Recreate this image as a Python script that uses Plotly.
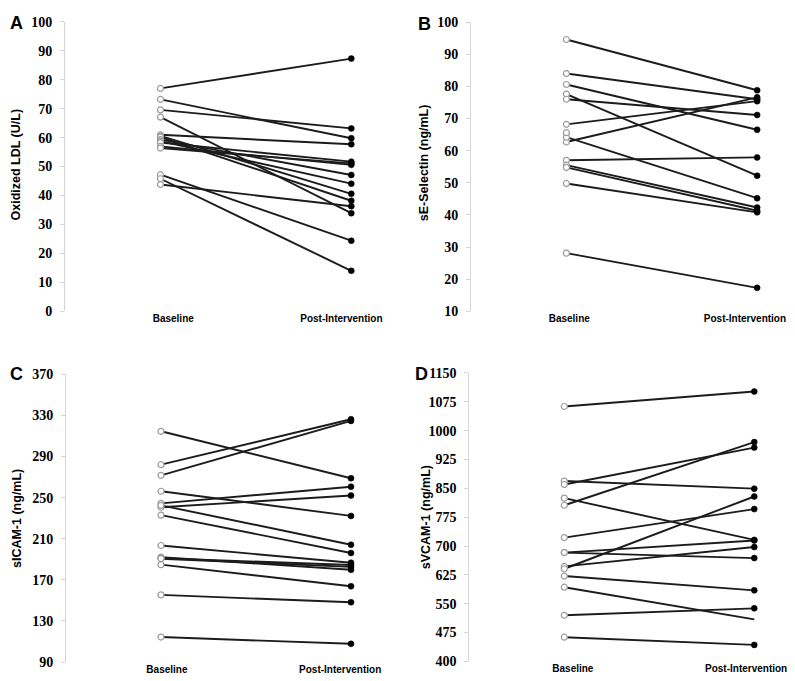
import plotly.graph_objects as go

# ---------------- data ----------------
timepoints = ["Baseline", "Post-Intervention"]

a_baseline = [77.0, 73.2, 69.6, 67.1, 61.0, 60.6, 60.2, 59.3, 58.8, 58.3, 57.0, 56.4, 47.2, 45.8, 43.8]
a_post     = [87.3, 59.8, 63.2, 33.9, 57.7, 40.6, 38.2, 47.1, 44.1, 51.7, 50.6, 51.1, 24.4, 14.0, 36.3]

b_baseline = [94.6, 84.0, 80.6, 77.6, 76.0, 68.2, 62.7, 64.2, 57.0, 55.5, 54.8, 49.8, 28.1, 65.6]
b_post     = [78.8, 76.0, 66.5, 52.2, 71.1, 75.4, 76.6, 45.2, 57.9, 42.3, 41.3, 40.8, 17.3, None]

c_baseline = [314.5, 282.0, 271.7, 256.2, 244.4, 240.6, 242.5, 233.0, 203.4, 192.1, 191.0, 184.8, 155.4, 114.4, 190.6]
c_post     = [268.8, 326.2, 324.6, 232.2, 260.6, 252.0, 204.2, 196.1, 186.7, 179.8, 184.5, 163.8, 148.2, 107.8, 182.6]

d_baseline = [1062.8, 869.0, 860.0, 824.5, 806.0, 722.0, 683.0, 683.0, 647.0, 641.0, 622.0, 593.0, 520.0, 463.0]
d_post     = [1101.7, 849.2, 956.0, 716.0, 970.3, 796.0, 714.5, 668.6, 697.4, 828.8, 584.8, 509.5, 538.0, 443.0]
d_post_without_marker = [509.5]   # this post value is drawn as a line end only

panel_letters = ["A", "B", "C", "D"]
y_titles = ["Oxidized LDL (U/L)", "sE-Selectin (ng/mL)", "sICAM-1 (ng/mL)", "sVCAM-1 (ng/mL)"]
y_ranges = [(0, 100), (10, 100), (90, 370), (400, 1150)]
y_dticks = [10, 10, 40, 75]

# ---------------- layout helpers ----------------
W, H = 795, 681
def fx(px):
    return px / W
def fy(py):
    return 1 - py / H

panels = [
    dict(base=a_baseline, post=a_post, hide=[], xd=(58, 368.4), yd=(303, 7), ticks=(0.067, 0.948),
         title_xy=(8.5, 152.5), letter_xy=(8.5, 8)),
    dict(base=b_baseline, post=b_post, hide=[], xd=(470.7, 781), yd=(303, 7.3), ticks=(0.015, 0.936),
         title_xy=(422.5, 151), letter_xy=(423, 9)),
    dict(base=c_baseline, post=c_post, hide=[], xd=(59, 368), yd=(661.7, 367.3), ticks=(0.031, 0.943),
         title_xy=(8.5, 515), letter_xy=(8.5, 367)),
    dict(base=d_baseline, post=d_post, hide=d_post_without_marker, xd=(469, 778), yd=(661, 366),
         ticks=(0.045, 0.957), title_xy=(424.5, 514), letter_xy=(420, 367)),
]

serif = "Liberation Serif, Times New Roman, serif"
sans = "Liberation Sans, Arial, sans-serif"

fig = go.Figure()
layout = dict(width=W, height=H, margin=dict(l=0, r=0, t=0, b=0),
              paper_bgcolor="white", plot_bgcolor="white", showlegend=False,
              annotations=[])

line_color = "#1c1c1c"
for i, p in enumerate(panels):
    n = i + 1
    xa = "x" if n == 1 else f"x{n}"
    ya = "y" if n == 1 else f"y{n}"
    for b, q in zip(p["base"], p["post"]):
        fig.add_trace(go.Scatter(x=[0, 1], y=[b, q], mode="lines", xaxis=xa, yaxis=ya,
                                 line=dict(color=line_color, width=1.9), hoverinfo="skip"))
    fig.add_trace(go.Scatter(x=[0] * len(p["base"]), y=p["base"], mode="markers", xaxis=xa, yaxis=ya,
                             cliponaxis=False,
                             marker=dict(size=6, color="white", line=dict(color="#9a9a9a", width=1.2))))
    post_vals = [v for v in p["post"] if v is not None and v not in p["hide"]]
    fig.add_trace(go.Scatter(x=[1] * len(post_vals), y=post_vals, mode="markers", xaxis=xa, yaxis=ya,
                             cliponaxis=False,
                             marker=dict(size=6, color="black", line=dict(color="black", width=0.5))))

    key_x = "xaxis" if n == 1 else f"xaxis{n}"
    key_y = "yaxis" if n == 1 else f"yaxis{n}"
    layout[key_x] = dict(domain=[fx(p["xd"][0]), fx(p["xd"][1])], anchor=ya, range=[-0.5, 1.1],
                         showline=False, showgrid=False, zeroline=False, ticks="",
                         tickvals=list(p["ticks"]), ticktext=timepoints,
                         tickfont=dict(family=sans, size=10, color="black", weight="bold"))
    layout[key_y] = dict(domain=[fy(p["yd"][0]), fy(p["yd"][1])], anchor=xa,
                         range=list(y_ranges[i]), dtick=y_dticks[i], tick0=y_ranges[i][0],
                         showline=True, linecolor="#d4d4d4", linewidth=1,
                         ticks="outside", ticklen=4, tickcolor="#d4d4d4",
                         showgrid=False, zeroline=False, ticklabelstandoff=5,
                         tickfont=dict(family=serif, size=14, color="black", weight="bold"))
    layout["annotations"].append(dict(
        text=y_titles[i], textangle=-90, xref="paper", yref="paper",
        x=fx(p["title_xy"][0]), y=fy(p["title_xy"][1]), xanchor="center", yanchor="middle",
        showarrow=False, font=dict(family=sans, size=12.5, color="black", weight="bold")))
    layout["annotations"].append(dict(
        text=panel_letters[i], xref="paper", yref="paper",
        x=fx(p["letter_xy"][0]), y=fy(p["letter_xy"][1]), xanchor="center", yanchor="middle",
        showarrow=False, font=dict(family=sans, size=18, color="black", weight="bold")))

fig.update_layout(**layout)
fig.write_html("out.html")
